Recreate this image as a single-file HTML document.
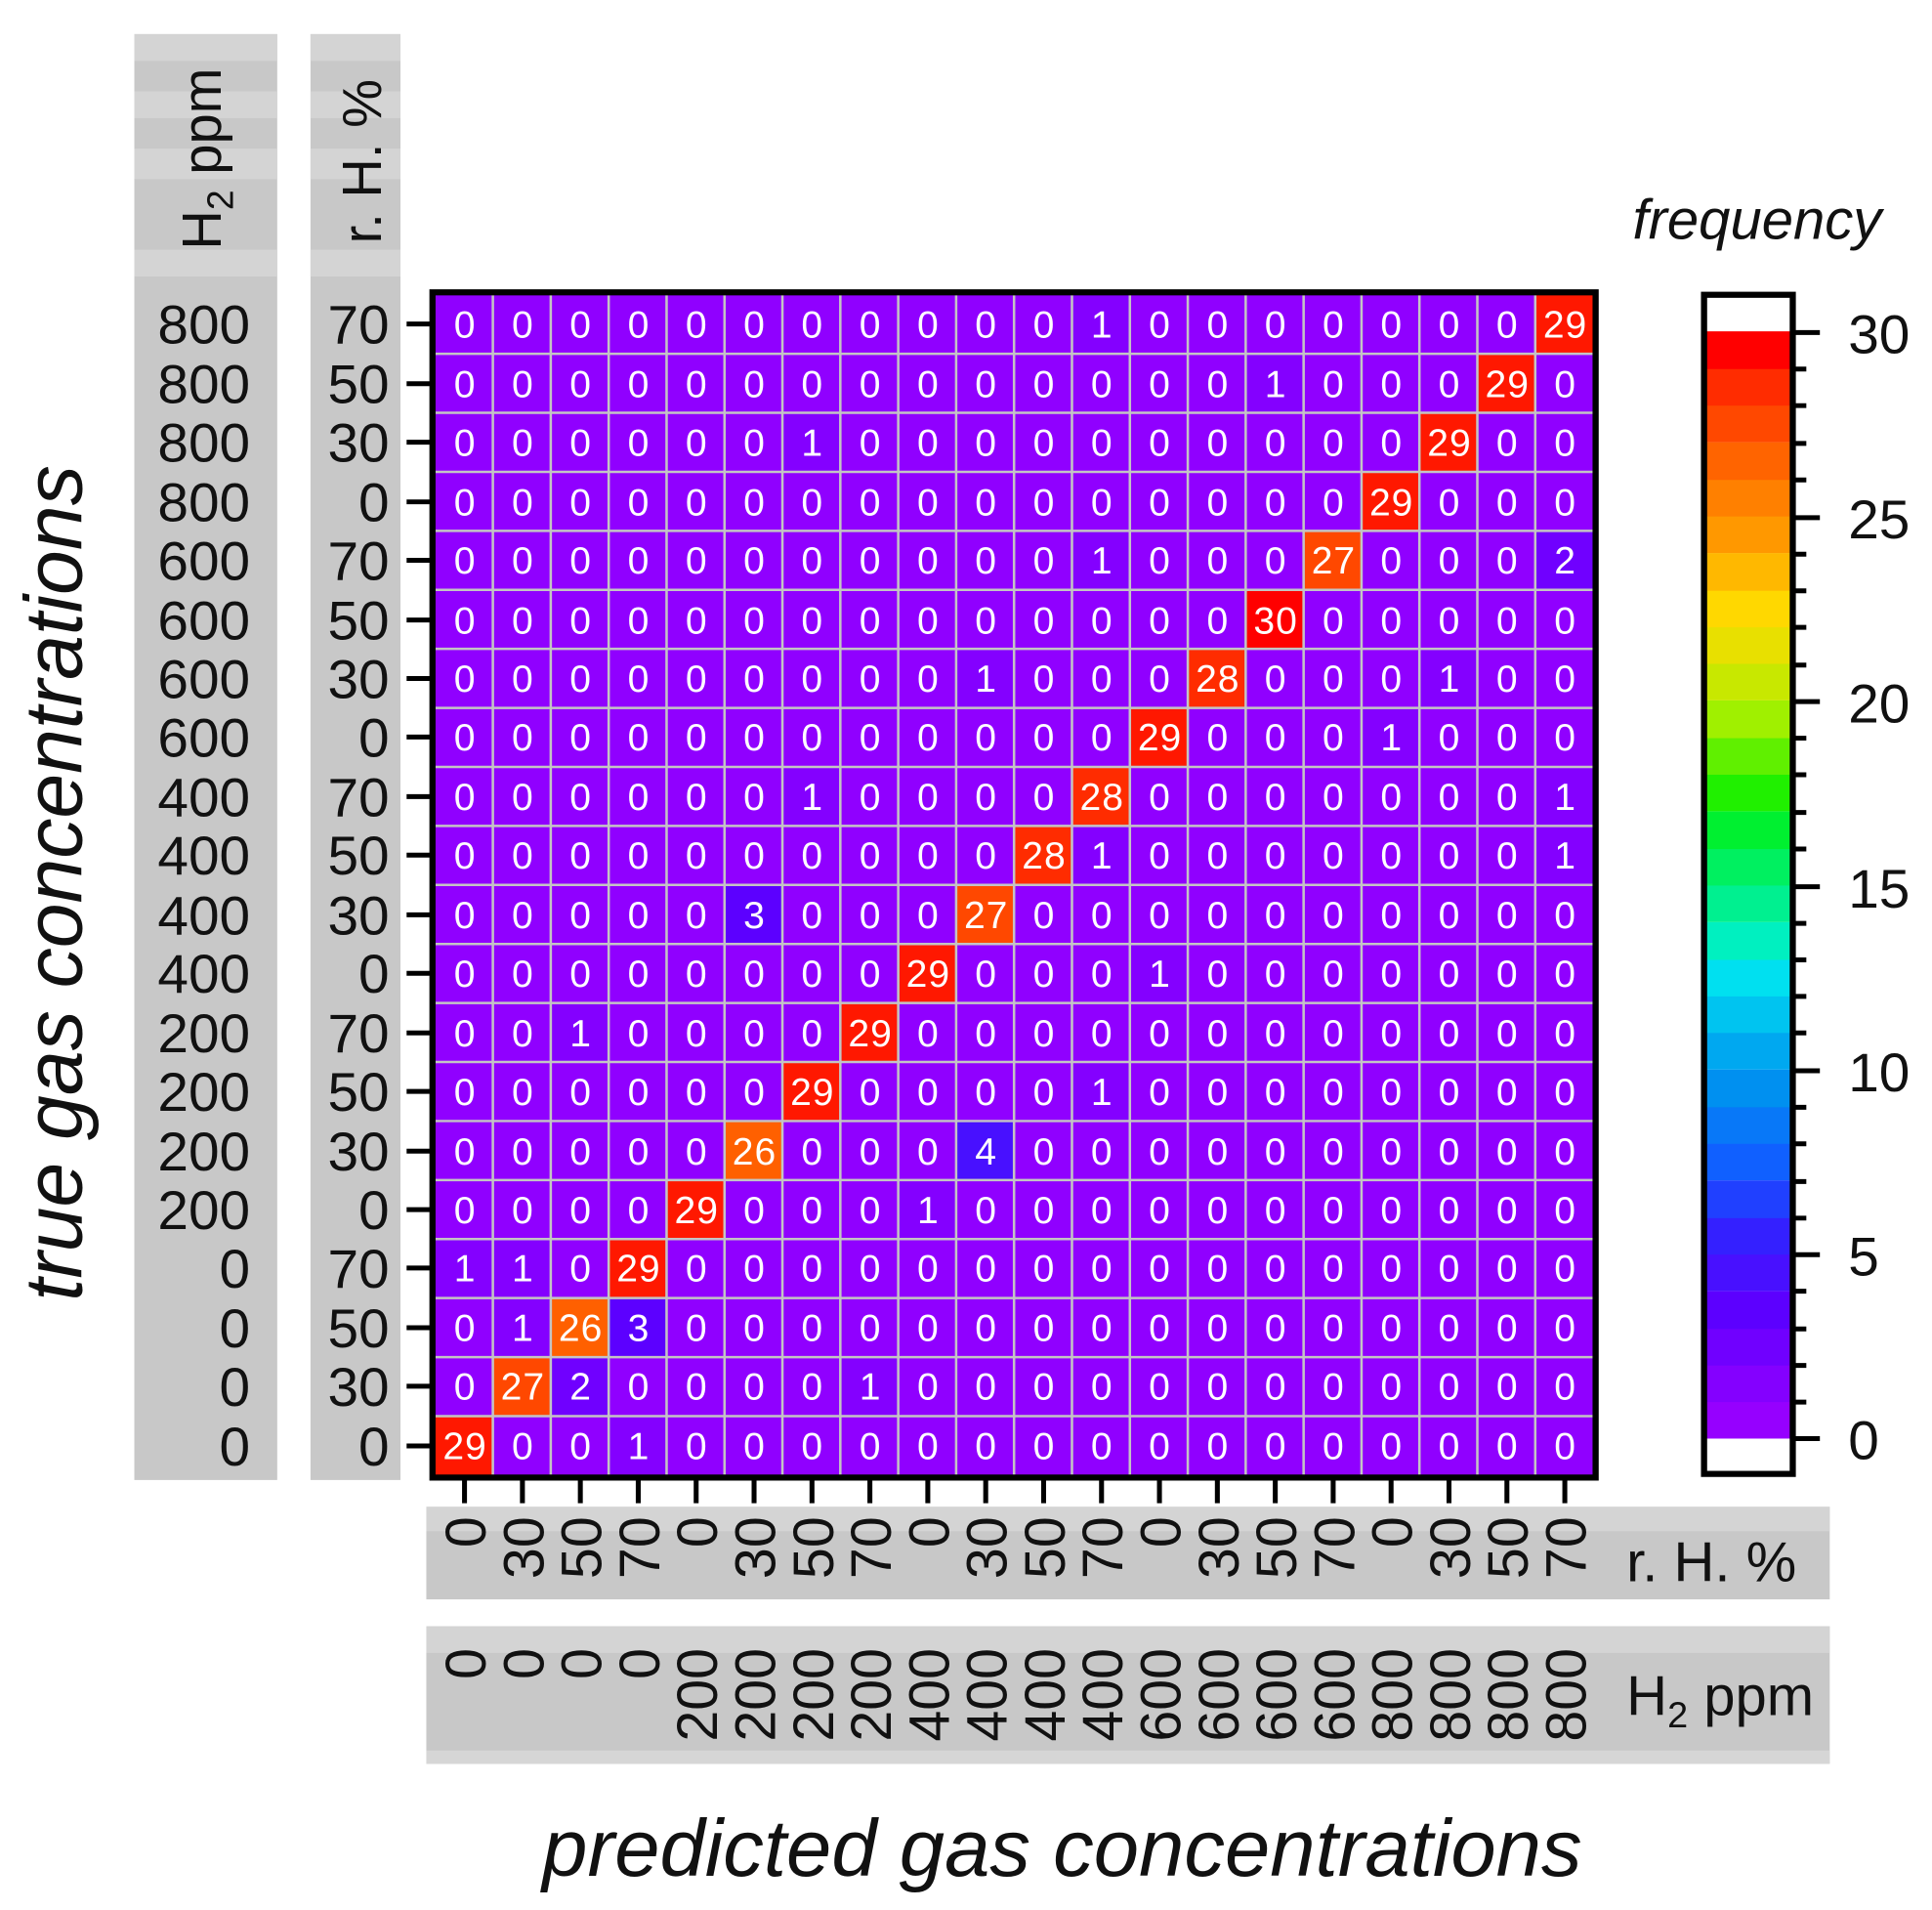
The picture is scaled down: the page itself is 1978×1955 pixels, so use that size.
<!DOCTYPE html>
<html><head><meta charset="utf-8"><style>html,body{margin:0;padding:0;background:#fff}svg{display:block}</style></head>
<body>
<svg width="1978" height="1955" viewBox="0 0 1568 1568" preserveAspectRatio="none" xmlns="http://www.w3.org/2000/svg" font-family="Liberation Sans, DejaVu Sans, sans-serif">
<rect width="1568" height="1568" fill="#fff"/>
<!-- left gray bars -->
<rect x="109" y="28" width="116" height="1187" fill="#c8c8c8"/>
<rect x="252" y="28" width="73" height="1187" fill="#c8c8c8"/>
<g fill="#d4d4d4">
<rect x="109" y="28" width="116" height="22"/><rect x="109" y="75" width="116" height="22"/><rect x="109" y="122" width="116" height="25"/><rect x="109" y="205" width="116" height="22"/>
<rect x="252" y="28" width="73" height="22"/><rect x="252" y="75" width="73" height="22"/><rect x="252" y="122" width="73" height="25"/><rect x="252" y="205" width="73" height="22"/>
</g>
<!-- bottom gray bars -->
<rect x="346" y="1237" width="1139" height="76" fill="#c8c8c8"/>
<rect x="346" y="1237" width="1139" height="20" fill="#d4d4d4"/>
<rect x="346" y="1335" width="1139" height="113" fill="#c8c8c8"/>
<rect x="346" y="1335" width="1139" height="22" fill="#d4d4d4"/>
<rect x="346" y="1437" width="1139" height="11" fill="#d6d6d6"/>

<!-- heatmap background -->
<rect x="353" y="242" width="940" height="969" fill="#9000ff"/>
<g>
<rect x="870" y="242" width="47" height="48.45" fill="#8400ff"/><rect x="1246" y="242" width="47" height="48.45" fill="#ff1800"/>
<rect x="1011" y="290.45" width="47" height="48.45" fill="#8400ff"/><rect x="1199" y="290.45" width="47" height="48.45" fill="#ff1800"/>
<rect x="635" y="338.9" width="47" height="48.45" fill="#8400ff"/><rect x="1152" y="338.9" width="47" height="48.45" fill="#ff1800"/>
<rect x="1105" y="387.35" width="47" height="48.45" fill="#ff1800"/>
<rect x="870" y="435.8" width="47" height="48.45" fill="#8400ff"/><rect x="1058" y="435.8" width="47" height="48.45" fill="#ff4800"/><rect x="1246" y="435.8" width="47" height="48.45" fill="#7000ff"/>
<rect x="1011" y="484.25" width="47" height="48.45" fill="#ff0000"/>
<rect x="776" y="532.7" width="47" height="48.45" fill="#8400ff"/><rect x="964" y="532.7" width="47" height="48.45" fill="#ff2c00"/><rect x="1152" y="532.7" width="47" height="48.45" fill="#8400ff"/>
<rect x="917" y="581.15" width="47" height="48.45" fill="#ff1800"/><rect x="1105" y="581.15" width="47" height="48.45" fill="#8400ff"/>
<rect x="635" y="629.6" width="47" height="48.45" fill="#8400ff"/><rect x="870" y="629.6" width="47" height="48.45" fill="#ff2c00"/><rect x="1246" y="629.6" width="47" height="48.45" fill="#8400ff"/>
<rect x="823" y="678.05" width="47" height="48.45" fill="#ff2c00"/><rect x="870" y="678.05" width="47" height="48.45" fill="#8400ff"/><rect x="1246" y="678.05" width="47" height="48.45" fill="#8400ff"/>
<rect x="588" y="726.5" width="47" height="48.45" fill="#5c00ff"/><rect x="776" y="726.5" width="47" height="48.45" fill="#ff4800"/>
<rect x="729" y="774.95" width="47" height="48.45" fill="#ff1800"/><rect x="917" y="774.95" width="47" height="48.45" fill="#8400ff"/>
<rect x="447" y="823.4" width="47" height="48.45" fill="#8400ff"/><rect x="682" y="823.4" width="47" height="48.45" fill="#ff1800"/>
<rect x="635" y="871.85" width="47" height="48.45" fill="#ff1800"/><rect x="870" y="871.85" width="47" height="48.45" fill="#8400ff"/>
<rect x="588" y="920.3" width="47" height="48.45" fill="#ff6000"/><rect x="776" y="920.3" width="47" height="48.45" fill="#4810ff"/>
<rect x="541" y="968.75" width="47" height="48.45" fill="#ff1800"/><rect x="729" y="968.75" width="47" height="48.45" fill="#8400ff"/>
<rect x="353" y="1017.2" width="47" height="48.45" fill="#8400ff"/><rect x="400" y="1017.2" width="47" height="48.45" fill="#8400ff"/><rect x="494" y="1017.2" width="47" height="48.45" fill="#ff1800"/>
<rect x="400" y="1065.65" width="47" height="48.45" fill="#8400ff"/><rect x="447" y="1065.65" width="47" height="48.45" fill="#ff6000"/><rect x="494" y="1065.65" width="47" height="48.45" fill="#5c00ff"/>
<rect x="400" y="1114.1" width="47" height="48.45" fill="#ff4800"/><rect x="447" y="1114.1" width="47" height="48.45" fill="#7000ff"/><rect x="682" y="1114.1" width="47" height="48.45" fill="#8400ff"/>
<rect x="353" y="1162.55" width="47" height="48.45" fill="#ff1800"/><rect x="494" y="1162.55" width="47" height="48.45" fill="#8400ff"/>
</g>
<!-- grid -->
<g stroke="#c4c4c4" stroke-width="2">
<path d="M400 242V1211M447 242V1211M494 242V1211M541 242V1211M588 242V1211M635 242V1211M682 242V1211M729 242V1211M776 242V1211M823 242V1211M870 242V1211M917 242V1211M964 242V1211M1011 242V1211M1058 242V1211M1105 242V1211M1152 242V1211M1199 242V1211M1246 242V1211"/>
<path d="M353 290.45H1293M353 338.9H1293M353 387.35H1293M353 435.8H1293M353 484.25H1293M353 532.7H1293M353 581.15H1293M353 629.6H1293M353 678.05H1293M353 726.5H1293M353 774.95H1293M353 823.4H1293M353 871.85H1293M353 920.3H1293M353 968.75H1293M353 1017.2H1293M353 1065.65H1293M353 1114.1H1293M353 1162.55H1293"/>
</g>
<rect x="351" y="240" width="944" height="973" fill="none" stroke="#000" stroke-width="5"/>

<!-- cell numbers -->
<g fill="#fff" font-size="31" text-anchor="middle">
<text y="277" x="377 424 471 518 565 612 659 706 753 800 847 894 941 988 1035 1082 1129 1176 1223 1261 1279">000000000001000000029</text>
<text y="326" x="377 424 471 518 565 612 659 706 753 800 847 894 941 988 1035 1082 1129 1176 1214 1232 1270">000000000000001000290</text>
<text y="374" x="377 424 471 518 565 612 659 706 753 800 847 894 941 988 1035 1082 1129 1167 1185 1223 1270">000000100000000002900</text>
<text y="423" x="377 424 471 518 565 612 659 706 753 800 847 894 941 988 1035 1082 1120 1138 1176 1223 1270">000000000000000029000</text>
<text y="471" x="377 424 471 518 565 612 659 706 753 800 847 894 941 988 1035 1073 1091 1129 1176 1223 1270">000000000001000270002</text>
<text y="520" x="377 424 471 518 565 612 659 706 753 800 847 894 941 988 1026 1044 1082 1129 1176 1223 1270">000000000000003000000</text>
<text y="568" x="377 424 471 518 565 612 659 706 753 800 847 894 941 979 997 1035 1082 1129 1176 1223 1270">000000000100028000100</text>
<text y="616" x="377 424 471 518 565 612 659 706 753 800 847 894 932 950 988 1035 1082 1129 1176 1223 1270">000000000000290001000</text>
<text y="665" x="377 424 471 518 565 612 659 706 753 800 847 885 903 941 988 1035 1082 1129 1176 1223 1270">000000100002800000001</text>
<text y="713" x="377 424 471 518 565 612 659 706 753 800 838 856 894 941 988 1035 1082 1129 1176 1223 1270">000000000028100000001</text>
<text y="762" x="377 424 471 518 565 612 659 706 753 791 809 847 894 941 988 1035 1082 1129 1176 1223 1270">000003000270000000000</text>
<text y="810" x="377 424 471 518 565 612 659 706 744 762 800 847 894 941 988 1035 1082 1129 1176 1223 1270">000000002900010000000</text>
<text y="859" x="377 424 471 518 565 612 659 697 715 753 800 847 894 941 988 1035 1082 1129 1176 1223 1270">001000029000000000000</text>
<text y="907" x="377 424 471 518 565 612 650 668 706 753 800 847 894 941 988 1035 1082 1129 1176 1223 1270">000000290000100000000</text>
<text y="956" x="377 424 471 518 565 603 621 659 706 753 800 847 894 941 988 1035 1082 1129 1176 1223 1270">000002600040000000000</text>
<text y="1004" x="377 424 471 518 556 574 612 659 706 753 800 847 894 941 988 1035 1082 1129 1176 1223 1270">000029000100000000000</text>
<text y="1052" x="377 424 471 509 527 565 612 659 706 753 800 847 894 941 988 1035 1082 1129 1176 1223 1270">110290000000000000000</text>
<text y="1101" x="377 424 462 480 518 565 612 659 706 753 800 847 894 941 988 1035 1082 1129 1176 1223 1270">012630000000000000000</text>
<text y="1149" x="377 415 433 471 518 565 612 659 706 753 800 847 894 941 988 1035 1082 1129 1176 1223 1270">027200001000000000000</text>
<text y="1198" x="368 386 424 471 518 565 612 659 706 753 800 847 894 941 988 1035 1082 1129 1176 1223 1270">290010000000000000000</text>
</g>

<!-- ticks -->
<g stroke="#000" stroke-width="4">
<path d="M330 266H351M330 315H351M330 363H351M330 412H351M330 460H351M330 509H351M330 557H351M330 605H351M330 654H351M330 702H351M330 751H351M330 799H351M330 848H351M330 896H351M330 945H351M330 993H351M330 1041H351M330 1090H351M330 1138H351M330 1187H351"/>
<path d="M377 1213V1234M424 1213V1234M471 1213V1234M518 1213V1234M565 1213V1234M612 1213V1234M659 1213V1234M706 1213V1234M753 1213V1234M800 1213V1234M847 1213V1234M894 1213V1234M941 1213V1234M988 1213V1234M1035 1213V1234M1082 1213V1234M1129 1213V1234M1176 1213V1234M1223 1213V1234M1270 1213V1234"/>
</g>
<!-- left labels -->
<g font-size="45" fill="#111" text-anchor="end">
<text x="203" y="282">800</text><text x="203" y="331">800</text><text x="203" y="379">800</text><text x="203" y="428">800</text>
<text x="203" y="476">600</text><text x="203" y="525">600</text><text x="203" y="573">600</text><text x="203" y="621">600</text>
<text x="203" y="670">400</text><text x="203" y="718">400</text><text x="203" y="767">400</text><text x="203" y="815">400</text>
<text x="203" y="864">200</text><text x="203" y="912">200</text><text x="203" y="961">200</text><text x="203" y="1009">200</text>
<text x="203" y="1057">0</text><text x="203" y="1106">0</text><text x="203" y="1154">0</text><text x="203" y="1203">0</text>
<text x="316" y="282">70</text><text x="316" y="331">50</text><text x="316" y="379">30</text><text x="316" y="428">0</text>
<text x="316" y="476">70</text><text x="316" y="525">50</text><text x="316" y="573">30</text><text x="316" y="621">0</text>
<text x="316" y="670">70</text><text x="316" y="718">50</text><text x="316" y="767">30</text><text x="316" y="815">0</text>
<text x="316" y="864">70</text><text x="316" y="912">50</text><text x="316" y="961">30</text><text x="316" y="1009">0</text>
<text x="316" y="1057">70</text><text x="316" y="1106">50</text><text x="316" y="1154">30</text><text x="316" y="1203">0</text>
</g>
<!-- top rotated labels on left bars -->
<g font-size="45" fill="#111">
<text transform="translate(179,205) rotate(-90)">H<tspan font-size="30" dy="10">2</tspan><tspan dy="-10"> ppm</tspan></text>
<text transform="translate(309,200) rotate(-90)">r. H. %</text>
</g>
<!-- bottom rotated labels -->
<g font-size="46" fill="#111" text-anchor="end">
<text transform="translate(394,1245) rotate(-90)">0</text>
<text transform="translate(441,1245) rotate(-90)">30</text>
<text transform="translate(488,1245) rotate(-90)">50</text>
<text transform="translate(535,1245) rotate(-90)">70</text>
<text transform="translate(582,1245) rotate(-90)">0</text>
<text transform="translate(629,1245) rotate(-90)">30</text>
<text transform="translate(676,1245) rotate(-90)">50</text>
<text transform="translate(723,1245) rotate(-90)">70</text>
<text transform="translate(770,1245) rotate(-90)">0</text>
<text transform="translate(817,1245) rotate(-90)">30</text>
<text transform="translate(864,1245) rotate(-90)">50</text>
<text transform="translate(911,1245) rotate(-90)">70</text>
<text transform="translate(958,1245) rotate(-90)">0</text>
<text transform="translate(1005,1245) rotate(-90)">30</text>
<text transform="translate(1052,1245) rotate(-90)">50</text>
<text transform="translate(1099,1245) rotate(-90)">70</text>
<text transform="translate(1146,1245) rotate(-90)">0</text>
<text transform="translate(1193,1245) rotate(-90)">30</text>
<text transform="translate(1240,1245) rotate(-90)">50</text>
<text transform="translate(1287,1245) rotate(-90)">70</text>

<text transform="translate(394,1353) rotate(-90)">0</text>
<text transform="translate(441,1353) rotate(-90)">0</text>
<text transform="translate(488,1353) rotate(-90)">0</text>
<text transform="translate(535,1353) rotate(-90)">0</text>
<text transform="translate(582,1353) rotate(-90)">200</text>
<text transform="translate(629,1353) rotate(-90)">200</text>
<text transform="translate(676,1353) rotate(-90)">200</text>
<text transform="translate(723,1353) rotate(-90)">200</text>
<text transform="translate(770,1353) rotate(-90)">400</text>
<text transform="translate(817,1353) rotate(-90)">400</text>
<text transform="translate(864,1353) rotate(-90)">400</text>
<text transform="translate(911,1353) rotate(-90)">400</text>
<text transform="translate(958,1353) rotate(-90)">600</text>
<text transform="translate(1005,1353) rotate(-90)">600</text>
<text transform="translate(1052,1353) rotate(-90)">600</text>
<text transform="translate(1099,1353) rotate(-90)">600</text>
<text transform="translate(1146,1353) rotate(-90)">800</text>
<text transform="translate(1193,1353) rotate(-90)">800</text>
<text transform="translate(1240,1353) rotate(-90)">800</text>
<text transform="translate(1287,1353) rotate(-90)">800</text>
</g>
<g font-size="46" fill="#111">
<text x="1320" y="1298">r. H. %</text>
<text x="1320" y="1408">H<tspan font-size="30" dy="10">2</tspan><tspan dy="-10"> ppm</tspan></text>
</g>

<!-- colorbar -->
<rect x="1383" y="242" width="72" height="968" fill="#fff"/>
<g>
<rect x="1383" y="1150" width="72" height="31" fill="#9600ff"/>
<rect x="1383" y="1120" width="72" height="31" fill="#8400ff"/>
<rect x="1383" y="1090" width="72" height="31" fill="#7000ff"/>
<rect x="1383" y="1060" width="72" height="31" fill="#5c00ff"/>
<rect x="1383" y="1029" width="72" height="31" fill="#4810ff"/>
<rect x="1383" y="999" width="72" height="31" fill="#3420ff"/>
<rect x="1383" y="969" width="72" height="31" fill="#2040ff"/>
<rect x="1383" y="938" width="72" height="31" fill="#1060ff"/>
<rect x="1383" y="908" width="72" height="31" fill="#0878f8"/>
<rect x="1383" y="878" width="72" height="31" fill="#0090f0"/>
<rect x="1383" y="847" width="72" height="31" fill="#00a8f0"/>
<rect x="1383" y="817" width="72" height="31" fill="#00c4f0"/>
<rect x="1383" y="787" width="72" height="31" fill="#00e0f0"/>
<rect x="1383" y="757" width="72" height="31" fill="#00f0c0"/>
<rect x="1383" y="726" width="72" height="31" fill="#00f090"/>
<rect x="1383" y="696" width="72" height="31" fill="#00f060"/>
<rect x="1383" y="666" width="72" height="31" fill="#00f030"/>
<rect x="1383" y="635" width="72" height="31" fill="#20f000"/>
<rect x="1383" y="605" width="72" height="31" fill="#60f000"/>
<rect x="1383" y="575" width="72" height="31" fill="#a0f000"/>
<rect x="1383" y="544" width="72" height="31" fill="#c8e800"/>
<rect x="1383" y="514" width="72" height="31" fill="#e8e000"/>
<rect x="1383" y="484" width="72" height="31" fill="#ffd800"/>
<rect x="1383" y="454" width="72" height="31" fill="#ffb800"/>
<rect x="1383" y="423" width="72" height="31" fill="#ff9800"/>
<rect x="1383" y="393" width="72" height="31" fill="#ff8000"/>
<rect x="1383" y="363" width="72" height="31" fill="#ff6400"/>
<rect x="1383" y="332" width="72" height="31" fill="#ff4800"/>
<rect x="1383" y="302" width="72" height="31" fill="#ff2c00"/>
<rect x="1383" y="272" width="72" height="31" fill="#ff0000"/>
</g>
<rect x="1383" y="242" width="72" height="968" fill="none" stroke="#000" stroke-width="5"/>
<g stroke="#000" stroke-width="4">
<path d="M1455 273H1477M1455 425H1477M1455 576H1477M1455 728H1477M1455 879H1477M1455 1030H1477M1455 1181H1477"/>
<path d="M1455 303H1466M1455 333H1466M1455 364H1466M1455 394H1466M1455 455H1466M1455 485H1466M1455 515H1466M1455 546H1466M1455 606H1466M1455 636H1466M1455 667H1466M1455 697H1466M1455 758H1466M1455 788H1466M1455 818H1466M1455 848H1466M1455 909H1466M1455 939H1466M1455 970H1466M1455 1000H1466M1455 1060H1466M1455 1091H1466M1455 1121H1466M1455 1151H1466"/>
</g>
<g font-size="45" fill="#111">
<text x="1500" y="290">30</text><text x="1500" y="442">25</text><text x="1500" y="593">20</text><text x="1500" y="745">15</text><text x="1500" y="896">10</text><text x="1500" y="1047">5</text><text x="1500" y="1198">0</text>
</g>
<text x="1325" y="196" font-size="46" font-style="italic" fill="#111">frequency</text>
<text x="862" y="1540" font-size="66" font-style="italic" fill="#111" text-anchor="middle">predicted gas concentrations</text>
<text transform="translate(66,725) rotate(-90)" font-size="66" font-style="italic" fill="#111" text-anchor="middle">true gas concentrations</text>
</svg>
</body></html>
